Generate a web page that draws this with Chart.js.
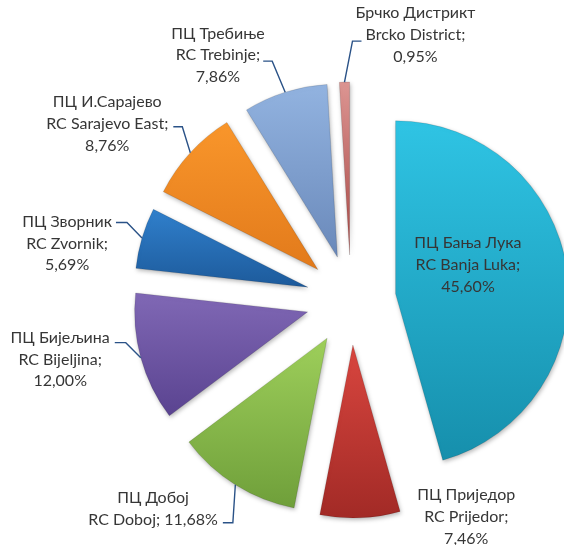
<!DOCTYPE html>
<html>
<head>
<meta charset="utf-8">
<script src="https://cdn.jsdelivr.net/npm/chart.js@4.4.1/dist/chart.umd.min.js"></script>
<style>
  html, body { margin: 0; padding: 0; background: #fff; }
  #wrap { width: 564px; height: 545px; }
</style>
</head>
<body>
<div id="wrap"><canvas id="regions-pie" width="564" height="545"></canvas></div>
<script>
var regionsSr = ["ПЦ Бања Лука", "ПЦ Приједор", "ПЦ Добој", "ПЦ Бијељина", "ПЦ Зворник", "ПЦ И.Сарајево", "ПЦ Требиње", "Брчко Дистрикт"];
var regionsEn = ["RC Banja Luka", "RC Prijedor", "RC Doboj", "RC Bijeljina", "RC Zvornik", "RC Sarajevo East", "RC Trebinje", "Brcko District"];
var shares = [45.60, 7.46, 11.68, 12.00, 5.69, 8.76, 7.86, 0.95];

// light (top) and dark (bottom) shade of every slice
var topColors = ["#2fc4e4", "#d9463f", "#9ecf5b", "#8068b5", "#3080cc", "#f9962b", "#92b3e0", "#dc9592"];
var bottomColors = ["#168fac", "#a22a26", "#6f9f3a", "#5a4390", "#1d5a9b", "#e27a1b", "#6a89ba", "#a94845"];

var RADIUS = 173;  // slice radius
var EXPLODE = 45;  // how far every slice is pulled out
var FONT = "16px Lato";
var LINE_H = 21.8;

// where each label sits: elbow of the leader measured from the outer middle
// point of its slice, then the text line it points at
var labelLayout = [
  { inside: true, dx: -99, dy: -5 },
  { side: "right", attach: 1, dx: 64, dy: 0, hlen: 0, gap: 0, ty: 1, leader: false },
  { side: "left", attach: 1, dx: -2.5, dy: 38, hlen: 10, gap: 5, ty: 3, leader: true, joinPct: true },
  { side: "left", attach: 0, dx: -15, dy: -15, hlen: 11, gap: 5, ty: 5, leader: true },
  { side: "left", attach: 0, dx: -15, dy: -15.5, hlen: 11, gap: 4, ty: 1, leader: true },
  { side: "left", attach: 1, dx: -8, dy: -26, hlen: 9, gap: 5, ty: 3, leader: true },
  { side: "left", attach: 1, dx: -13, dy: -31, hlen: 9, gap: 3, ty: 6, leader: true },
  { side: "right", attach: 1, dx: 8, dy: -41, hlen: 9, gap: 4, ty: 6, leader: true }
];

function pct(v) {
  return v.toFixed(2).replace(".", ",") + "%";
}

function labelLines(i) {
  if (labelLayout[i].joinPct) {
    return [regionsSr[i], regionsEn[i] + "; " + pct(shares[i])];
  }
  return [regionsSr[i], regionsEn[i] + ";", pct(shares[i])];
}

// vertical extent of an exploded slice, used for its gradient
function sliceExtent(i, area) {
  var total = shares.reduce(function (a, b) { return a + b; }, 0);
  var before = 0;
  for (var k = 0; k < i; k++) before += shares[k];
  var a0 = -Math.PI / 2 + (before / total) * Math.PI * 2;
  var a1 = a0 + (shares[i] / total) * Math.PI * 2;
  var mid = (a0 + a1) / 2;
  var cy = (area.top + area.bottom) / 2 + Math.sin(mid) * EXPLODE;
  var top = cy, bottom = cy;
  for (var s = 0; s <= 24; s++) {
    var y = cy + Math.sin(a0 + ((a1 - a0) * s) / 24) * RADIUS;
    top = Math.min(top, y);
    bottom = Math.max(bottom, y);
  }
  return { top: top, bottom: bottom };
}

// pull every slice out from the centre by the same distance, soft shadow under them
var explodeSlices = {
  id: "explodeSlices",
  beforeDatasetsDraw: function (chart) {
    var area = chart.chartArea;
    var cx = (area.left + area.right) / 2;
    var cy = (area.top + area.bottom) / 2;
    chart.getDatasetMeta(0).data.forEach(function (arc) {
      var mid = (arc.startAngle + arc.endAngle) / 2;
      arc.x = cx + Math.cos(mid) * EXPLODE;
      arc.y = cy + Math.sin(mid) * EXPLODE;
    });
    var ctx = chart.ctx;
    ctx.save();
    ctx.shadowColor = "rgba(0, 0, 0, 0.28)";
    ctx.shadowBlur = 4;
    ctx.shadowOffsetX = 1;
    ctx.shadowOffsetY = 2;
  },
  afterDatasetsDraw: function (chart) {
    chart.ctx.restore();
  }
};

var sliceLabels = {
  id: "sliceLabels",
  afterDatasetsDraw: function (chart) {
    var ctx = chart.ctx;
    ctx.save();
    ctx.font = FONT;
    ctx.textAlign = "center";
    ctx.textBaseline = "middle";
    chart.getDatasetMeta(0).data.forEach(function (arc, i) {
      var lay = labelLayout[i];
      var mid = (arc.startAngle + arc.endAngle) / 2;
      var px = arc.x + Math.cos(mid) * arc.outerRadius;
      var py = arc.y + Math.sin(mid) * arc.outerRadius;
      var lines = labelLines(i);
      var cx, firstY;
      var ex = px + lay.dx, ey = py + lay.dy;

      if (lay.inside) {
        cx = ex;
        firstY = ey - LINE_H;
      } else {
        var w = ctx.measureText(lines[lay.attach]).width;
        var endX = lay.side === "left" ? ex - lay.hlen : ex + lay.hlen;
        cx = lay.side === "left" ? endX - lay.gap - w / 2 : endX + lay.gap + w / 2;
        firstY = ey - lay.ty - lay.attach * LINE_H;
        if (lay.leader) {
          ctx.strokeStyle = "#2a5287";
          ctx.lineWidth = 1.4;
          ctx.beginPath();
          ctx.moveTo(px, py);
          ctx.lineTo(ex, ey);
          ctx.lineTo(endX, ey);
          ctx.stroke();
        }
      }
      ctx.fillStyle = "#363636";
      lines.forEach(function (t, j) {
        ctx.fillText(t, cx, firstY + j * LINE_H);
      });
    });
    ctx.restore();
  }
};

var ctxPie = document.getElementById("regions-pie").getContext("2d");

var pieChart = new Chart(ctxPie, {
  type: "pie",
  data: {
    labels: regionsEn,
    datasets: [
      {
        data: shares,
        backgroundColor: function (context) {
          var i = context.dataIndex;
          var area = context.chart.chartArea;
          if (!area) return topColors[i];
          var ext = sliceExtent(i, area);
          var g = context.chart.ctx.createLinearGradient(0, ext.top, 0, ext.bottom);
          g.addColorStop(0, topColors[i]);
          g.addColorStop(1, bottomColors[i]);
          return g;
        },
        borderColor: "rgba(0, 0, 0, 0.12)",
        borderWidth: 1,
        offset: 0,
        hoverOffset: 0,
        clip: false,
      },
    ],
  },
  options: {
    responsive: false,
    animation: false,
    radius: RADIUS,
    layout: {
      padding: { left: 138, top: 55, right: 0, bottom: 0 },
    },
    plugins: {
      legend: { display: false },
      tooltip: { enabled: false },
    },
  },
  plugins: [explodeSlices, sliceLabels],
});
</script>
</body>
</html>
